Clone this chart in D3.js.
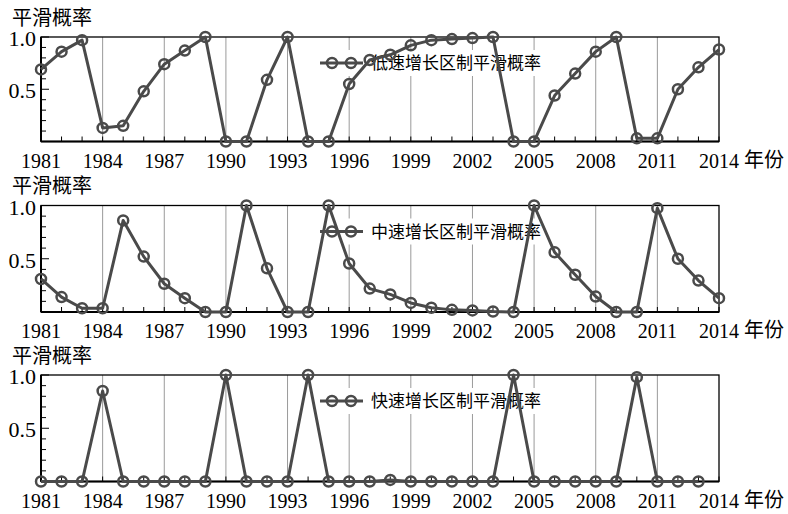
<!DOCTYPE html>
<html><head><meta charset="utf-8">
<script src="https://cdn.jsdelivr.net/npm/d3@7"></script>
<style>body{margin:0;background:#fff}</style>
</head><body>
<svg id="c" width="788" height="514"></svg>
<script>
const years = [1981,1982,1983,1984,1985,1986,1987,1988,1989,1990,1991,1992,1993,1994,1995,1996,1997,1998,1999,2000,2001,2002,2003,2004,2005,2006,2007,2008,2009,2010,2011,2012,2013,2014];
const tickYears = [1981,1984,1987,1990,1993,1996,1999,2002,2005,2008,2011,2014];
const gridYears = [1984,1987,1990,1993,1996,1999,2002,2005,2008,2011];
const yTickLabels = [0.5, 1.0];
const lowRegime = [0.69,0.86,0.97,0.13,0.15,0.48,0.74,0.87,1.0,0,0,0.59,1.0,0,0,0.55,0.78,0.83,0.92,0.97,0.98,0.99,1.0,0,0,0.44,0.65,0.86,1.0,0.03,0.03,0.50,0.71,0.88];
const midRegime = [0.31,0.14,0.035,0.035,0.86,0.52,0.265,0.13,0,0,1.0,0.41,0,0,1.0,0.455,0.22,0.165,0.085,0.04,0.02,0.015,0.005,0,1.0,0.56,0.35,0.145,0,0,0.975,0.50,0.295,0.13];
const fastRegime = [0,0,0,0.85,0,0,0,0,0,1.0,0,0,0,1.0,0,0,0,0.015,0,0,0,0,0,1.0,0,0,0,0,0,0.98,0,0,0,null];
const legendNames = ["低速增长区制平滑概率","中速增长区制平滑概率","快速增长区制平滑概率"];
const yTitle = "平滑概率";
const xTitle = "年份";

const panels = [
  {values: lowRegime, name: legendNames[0], top: 37, bottom: 141.5},
  {values: midRegime, name: legendNames[1], top: 205.5, bottom: 312},
  {values: fastRegime, name: legendNames[2], top: 375, bottom: 481.5}
];
const left = 41, right = 719;
const lineColor = "#4a4a4a";
const cjk = "'Noto Sans CJK SC', 'Noto Sans', sans-serif";
const serif = "'Liberation Serif', 'Times New Roman', Times, serif";

const svg = d3.select("#c");
const x = d3.scaleLinear().domain([1981, 2014]).range([left, right]);
const minorY = [0.1,0.2,0.3,0.4,0.6,0.7,0.8,0.9];

panels.forEach(p => {
  const y = d3.scaleLinear().domain([0, 1]).range([p.bottom, p.top]);
  const g = svg.append("g");
  g.selectAll("line.grid").data(gridYears).join("line")
    .attr("x1", d => x(d)).attr("x2", d => x(d))
    .attr("y1", p.top).attr("y2", p.bottom)
    .attr("stroke", "#9a9a9a").attr("stroke-width", 1);
  g.selectAll("line.xt").data(years).join("line")
    .attr("x1", d => x(d)).attr("x2", d => x(d))
    .attr("y1", p.bottom).attr("y2", p.bottom - 5)
    .attr("stroke", "#000").attr("stroke-width", 1);
  g.selectAll("line.ymin").data(minorY).join("line")
    .attr("x1", left).attr("x2", left + 5)
    .attr("y1", d => y(d)).attr("y2", d => y(d))
    .attr("stroke", "#000").attr("stroke-width", 1);
  g.selectAll("line.ymaj").data(yTickLabels).join("line")
    .attr("x1", left).attr("x2", left + 8)
    .attr("y1", d => y(d)).attr("y2", d => y(d))
    .attr("stroke", "#000").attr("stroke-width", 1);
  g.append("rect").attr("x", left).attr("y", p.top)
    .attr("width", right - left).attr("height", p.bottom - p.top)
    .attr("fill", "none").attr("stroke", "#000").attr("stroke-width", 1.3);
  g.append("line").attr("x1", left).attr("x2", left).attr("y1", p.top).attr("y2", p.bottom)
    .attr("stroke", "#000").attr("stroke-width", 2);
  g.append("line").attr("x1", left).attr("x2", right).attr("y1", p.bottom).attr("y2", p.bottom)
    .attr("stroke", "#000").attr("stroke-width", 2);
  g.selectAll("text.yl").data(yTickLabels).join("text")
    .attr("transform", d => `translate(${left - 5},${y(d) + 9}) scale(1.1,1.1)`)
    .attr("text-anchor", "end")
    .attr("font-family", serif).attr("font-size", 20)
    .text(d => d.toFixed(1));
  g.selectAll("text.xl").data(tickYears).join("text")
    .attr("transform", d => `translate(${x(d)},${p.bottom + 26}) scale(1,1.1)`)
    .attr("text-anchor", "middle")
    .attr("font-family", serif).attr("font-size", 20)
    .text(d => d);
  g.append("text").attr("x", 744).attr("y", p.bottom + 25)
    .attr("font-family", cjk).attr("font-size", 20).text(xTitle);
  g.append("text").attr("x", 12).attr("y", p.top - 12.5)
    .attr("font-family", cjk).attr("font-size", 20).text(yTitle);
  const ly = p.top + 26;
  g.append("rect").attr("x", 318).attr("y", ly - 13).attr("width", 228).attr("height", 26)
    .attr("fill", "#fff");
  g.append("line").attr("x1", 320).attr("x2", 363).attr("y1", ly).attr("y2", ly)
    .attr("stroke", lineColor).attr("stroke-width", 3);
  g.selectAll("circle.lg").data([332, 351]).join("circle")
    .attr("cx", d => d).attr("cy", ly).attr("r", 5)
    .attr("fill", "none").attr("stroke", lineColor).attr("stroke-width", 2.5);
  g.append("text").attr("x", 371).attr("y", ly + 6)
    .attr("font-family", cjk).attr("font-size", 17).text(p.name);
  const pts = years.map((yr, i) => ({yr, v: p.values[i]})).filter(d => d.v !== null);
  const line = d3.line().x(d => x(d.yr)).y(d => y(d.v));
  g.append("path").datum(pts).attr("d", line)
    .attr("fill", "none").attr("stroke", lineColor).attr("stroke-width", 3)
    .attr("stroke-linejoin", "round");
  g.selectAll("circle.pt").data(pts).join("circle")
    .attr("cx", d => x(d.yr)).attr("cy", d => y(d.v)).attr("r", 5)
    .attr("fill", "none").attr("stroke", lineColor).attr("stroke-width", 2.5);
});
</script>
</body></html>
